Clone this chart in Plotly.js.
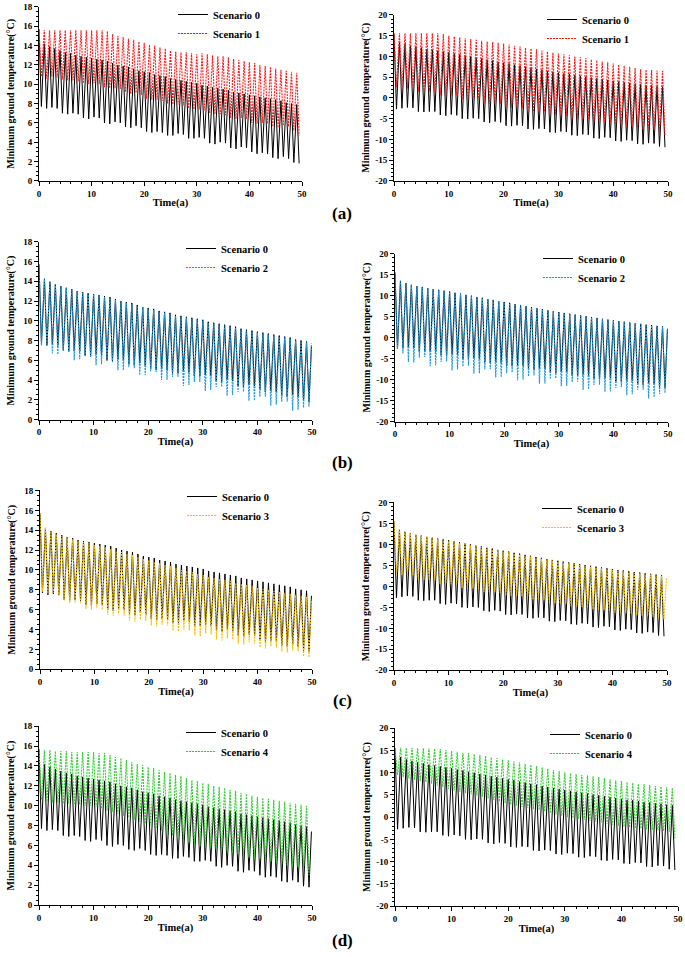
<!DOCTYPE html>
<html>
<head>
<meta charset="utf-8">
<script src="https://cdn.plot.ly/plotly-3.0.1.min.js"></script>
<style>html,body{margin:0;padding:0;background:#fff;}#chart{width:685px;height:957px;}</style>
</head>
<body>
<div id="chart"></div>
<script>
// ---- Data: yearly peak (index 0 = start value) and yearly trough ----
// Left column scenario data
const s0L_peak = [15.7,14.2,13.9,13.7,13.5,13.3,13.2,13.0,12.9,12.8,12.7,12.6,12.5,12.4,12.2,12.0,11.9,11.8,11.6,11.4,11.3,11.2,11.0,10.9,10.8,10.6,10.5,10.4,10.3,10.2,10.1,9.9,9.8,9.7,9.6,9.5,9.4,9.2,9.1,9.0,8.9,8.8,8.7,8.6,8.5,8.4,8.3,8.1,8.0,7.9];
const s0L_trough = [7.7,7.5,7.6,7.5,7.0,6.9,7.0,6.9,6.5,6.4,6.6,6.5,6.0,5.9,6.1,6.0,5.6,5.5,5.7,5.5,5.1,5.0,5.1,5.0,4.7,4.7,4.9,4.8,4.4,4.4,4.5,4.4,3.9,3.8,4.0,3.9,3.4,3.3,3.5,3.4,3.0,2.8,2.9,2.8,2.4,2.3,2.5,2.3,1.9,1.8];
const s1L_peak = [15.7,15.6,15.6,15.6,15.6,15.6,15.6,15.6,15.6,15.6,15.6,15.6,15.6,15.5,15.2,15.0,14.9,14.7,14.6,14.4,14.3,14.1,14.0,13.8,13.7,13.5,13.4,13.3,13.3,13.2,13.1,13.2,13.1,13.0,12.9,12.9,12.8,12.6,12.5,12.4,12.3,12.2,12.0,11.9,11.8,11.6,11.5,11.4,11.3,11.2];
const s1L_trough = [10.8,10.6,10.8,10.7,10.5,10.4,10.4,10.3,10.1,10.0,10.1,10.0,9.7,9.6,9.6,9.5,9.2,9.0,9.1,8.9,8.5,8.4,8.4,8.3,8.0,7.9,7.9,7.8,7.5,7.4,7.4,7.3,7.0,6.9,6.9,6.8,6.5,6.4,6.5,6.4,6.0,5.9,6.0,5.9,5.6,5.5,5.7,5.6,5.2,4.7];
const s2L_peak = [15.7,14.3,14.0,13.7,13.5,13.4,13.2,13.0,12.9,12.8,12.7,12.6,12.4,12.3,12.1,12.0,11.8,11.7,11.5,11.4,11.2,11.1,10.9,10.8,10.7,10.5,10.4,10.3,10.2,10.1,10.0,9.8,9.7,9.6,9.5,9.4,9.3,9.1,9.0,8.9,8.8,8.7,8.6,8.5,8.4,8.3,8.2,8.0,7.9,7.8];
const s2L_trough = [7.5,7.5,6.7,6.6,7.0,6.8,6.0,6.1,6.4,6.3,5.5,5.6,5.9,5.8,5.0,5.0,5.3,5.2,4.5,4.5,4.9,4.8,4.0,4.0,4.3,4.3,3.4,3.5,3.8,3.8,2.9,3.0,3.3,3.3,2.4,2.5,2.8,2.8,1.9,1.9,2.3,2.3,1.4,1.5,1.8,1.8,0.9,1.0,1.2,1.3];
const s3L_peak = [15.7,14.3,13.9,13.6,13.4,13.3,13.1,12.9,12.8,12.7,12.5,12.4,12.3,12.1,11.9,11.8,11.6,11.5,11.3,11.1,11.0,10.8,10.7,10.5,10.4,10.2,10.0,9.9,9.8,9.6,9.5,9.3,9.2,9.1,9.0,8.9,8.7,8.6,8.5,8.4,8.2,8.1,8.0,7.9,7.8,7.7,7.6,7.5,7.4,7.3];
const s3L_trough = [7.8,7.6,7.7,7.4,6.9,6.7,6.7,6.6,6.1,6.0,6.2,6.0,5.5,5.4,5.6,5.4,4.9,4.8,5.0,4.9,4.4,4.3,4.5,4.4,3.9,3.8,4.0,3.9,3.4,3.3,3.6,3.5,3.0,2.9,3.1,3.0,2.6,2.5,2.7,2.6,2.2,2.1,2.3,2.2,1.8,1.7,1.9,1.8,1.3,1.2];
const s4L_peak = [15.7,15.6,15.6,15.5,15.5,15.5,15.4,15.4,15.4,15.4,15.4,15.3,15.3,15.1,14.9,14.8,14.6,14.4,14.2,14.1,13.9,13.8,13.6,13.4,13.3,13.1,13.0,12.8,12.6,12.5,12.3,12.2,12.0,11.9,11.8,11.6,11.5,11.3,11.2,11.0,10.9,10.8,10.7,10.6,10.5,10.4,10.3,10.2,10.1,10.0];
const s4L_trough = [10.6,10.4,10.3,10.3,10.2,10.2,10.1,10.1,10.0,10.0,9.9,9.7,9.5,9.4,9.2,9.0,8.8,8.6,8.4,8.2,8.0,7.7,7.5,7.2,7.0,6.7,6.5,6.3,6.1,5.9,5.8,5.7,5.6,5.4,5.3,5.3,5.1,5.0,4.8,4.7,4.7,4.5,4.4,4.3,4.1,4.0,3.9,3.8,3.6,3.0];
// Right column scenario data
const s0R_peak = [15.5,13.5,13.0,12.6,12.3,12.1,11.8,11.6,11.4,11.2,11.0,10.7,10.5,10.2,10.0,9.7,9.5,9.2,9.0,8.7,8.5,8.3,8.0,7.8,7.5,7.3,7.0,6.8,6.5,6.3,6.1,5.9,5.7,5.5,5.3,5.1,4.9,4.7,4.5,4.3,4.1,3.9,3.8,3.6,3.4,3.3,3.1,3.0,2.8,2.7];
const s0R_trough = [-2.7,-2.5,-2.3,-2.4,-3.3,-3.4,-3.3,-3.3,-4.1,-4.3,-4.0,-4.2,-5.0,-5.1,-4.9,-5.0,-5.8,-6.0,-5.7,-5.9,-6.7,-6.8,-6.6,-6.7,-7.5,-7.6,-7.4,-7.5,-8.3,-8.4,-8.1,-8.2,-9.0,-9.1,-8.8,-8.9,-9.7,-9.8,-9.5,-9.6,-10.4,-10.5,-10.2,-10.3,-11.1,-11.2,-10.9,-11.0,-11.7,-11.9];
const s1R_peak = [15.6,15.6,15.6,15.6,15.6,15.6,15.6,15.6,15.6,15.4,15.0,14.8,14.6,14.4,14.2,14.0,13.8,13.6,13.5,13.3,13.1,12.9,12.6,12.4,12.1,11.9,11.7,11.4,11.2,10.9,10.7,10.5,10.3,10.0,9.8,9.6,9.3,9.1,8.8,8.6,8.3,8.0,7.8,7.5,7.2,6.9,6.8,6.7,6.6,6.5];
const s1R_trough = [2.5,2.3,2.2,2.4,1.5,1.4,1.5,1.4,0.6,0.5,0.6,0.5,-0.4,-0.5,-0.4,-0.5,-1.3,-1.4,-1.3,-1.4,-2.3,-2.4,-2.3,-2.4,-3.2,-3.3,-3.2,-3.3,-4.1,-4.2,-4.3,-4.4,-5.1,-5.2,-5.1,-5.2,-6.0,-6.1,-6.0,-6.1,-6.8,-6.9,-6.8,-6.9,-7.6,-7.7,-7.6,-7.7,-8.3,-9.0];
const s2R_peak = [15.5,13.6,13.0,12.6,12.3,12.0,11.8,11.6,11.3,11.1,10.9,10.7,10.4,10.2,9.9,9.7,9.4,9.2,8.9,8.7,8.4,8.2,8.0,7.7,7.5,7.2,7.0,6.7,6.5,6.3,6.0,5.8,5.6,5.4,5.2,5.0,4.8,4.6,4.4,4.2,4.0,3.9,3.7,3.5,3.4,3.2,3.1,2.9,2.8,2.6];
const s2R_trough = [-2.7,-3.8,-5.8,-5.9,-4.8,-4.6,-6.8,-6.6,-5.8,-5.7,-7.8,-7.6,-6.9,-6.7,-8.6,-8.5,-7.6,-7.5,-9.5,-9.4,-8.5,-8.3,-10.2,-10.0,-9.2,-9.0,-11.0,-10.9,-9.9,-9.7,-11.6,-11.5,-10.6,-10.5,-12.5,-12.3,-11.3,-11.2,-12.9,-12.8,-12.0,-11.8,-13.7,-13.5,-12.5,-12.4,-14.5,-14.2,-13.4,-13.2];
const s3R_peak = [15.5,13.6,13.1,12.6,12.3,12.0,11.8,11.5,11.3,11.0,10.8,10.6,10.3,10.1,9.8,9.6,9.3,9.1,8.8,8.6,8.3,8.1,7.8,7.6,7.3,7.1,6.8,6.6,6.4,6.2,5.9,5.7,5.5,5.3,5.1,4.9,4.7,4.5,4.3,4.1,3.9,3.7,3.6,3.4,3.2,3.1,2.9,2.8,2.6,2.5];
const s3R_trough = [3.0,2.7,2.6,2.6,1.6,1.5,1.6,1.5,0.6,0.5,0.5,0.4,-0.4,-0.5,-0.5,-0.6,-1.3,-1.4,-1.4,-1.5,-2.2,-2.3,-2.3,-2.4,-3.1,-3.2,-3.2,-3.3,-3.9,-4.0,-4.1,-4.2,-4.7,-4.8,-4.9,-5.0,-5.5,-5.6,-5.7,-5.8,-6.2,-6.3,-6.4,-6.5,-6.9,-7.0,-7.1,-7.2,-7.6,-7.8];
const s4R_peak = [15.6,15.6,15.6,15.6,15.5,15.5,15.5,15.4,15.3,15.1,14.9,14.7,14.5,14.4,14.2,14.0,13.8,13.5,13.3,13.0,12.8,12.5,12.3,12.0,11.8,11.5,11.2,10.9,10.6,10.4,10.1,9.9,9.7,9.5,9.4,9.2,9.0,8.8,8.5,8.3,8.1,7.9,7.7,7.5,7.4,7.2,7.0,6.9,6.7,6.6];
const s4R_trough = [9.5,9.0,8.7,8.4,8.1,7.9,7.5,7.1,6.8,6.4,6.0,5.7,5.4,5.1,4.9,4.6,4.2,3.8,3.5,3.1,2.8,2.6,2.3,2.1,1.8,1.6,1.3,0.9,0.6,0.3,0.0,-0.2,-0.4,-0.6,-0.8,-1.0,-1.2,-1.5,-1.7,-2.0,-2.2,-2.3,-2.5,-2.6,-2.8,-2.9,-3.0,-3.1,-3.3,-4.8];
// Final values at t = 50 where the curve ends on a rise (null = ends at last trough)
const endBase = [null, null, 7.4, 2.0, 7.4, null, 7.4, null];
const endScen = [null, null, 7.7, 2.2, 7.0, 2.0, null, null];

const scenarioNames = ['Scenario 1','Scenario 2','Scenario 3','Scenario 4'];
const scenarioColors = ['#FF1A1A','#1B98DE','#F5C000','#33CC33'];
const panelLetters = ['(a)','(b)','(c)','(d)'];
const leftTicks = [0,2,4,6,8,10,12,14,16,18];
const rightTicks = [-20,-15,-10,-5,0,5,10,15,20];
const xTicks = [0,10,20,30,40,50];

const leftScen = [[s1L_peak,s1L_trough],[s2L_peak,s2L_trough],[s3L_peak,s3L_trough],[s4L_peak,s4L_trough]];
const rightScen = [[s1R_peak,s1R_trough],[s2R_peak,s2R_trough],[s3R_peak,s3R_trough],[s4R_peak,s4R_trough]];

// ---- Layout geometry (pixels) ----
const W = 685, H = 957;
const boxes = [ // [x0,x1,yTop,yBottom]
  [39,302,6,180],[394,668,14,180],
  [39,312,241,419],[395,668,253,421],
  [40,312,490,669],[394,667,502,670],
  [39,312,726,905],[395,678,728,906]
];
const legendPos = [ // [text start x, first item center y]
  [215,13],[584,19],[223,248],[580,258],[224,496],[579,508],[223,732],[587,734]
];
const letterPos = [[342,213],[342,462],[342,700],[342,940]];

function wave(peaks, troughs, endVal){
  const x=[], y=[];
  for(let i=0;i<peaks.length;i++){
    x.push(i); y.push(peaks[i]);
    x.push(i+0.45); y.push(troughs[i]);
  }
  if(endVal!==null && endVal!==undefined){ x.push(49.9); y.push(endVal); }
  return {x,y};
}

const FONT = 'Liberation Serif, Times New Roman, serif';
const traces = [];
const layout = {
  width: W, height: H, margin:{l:0,r:0,t:0,b:0},
  paper_bgcolor:'#fff', plot_bgcolor:'rgba(0,0,0,0)',
  showlegend:true, annotations:[], font:{family:FONT, color:'#000'}
};

for(let p=0;p<8;p++){
  const row = Math.floor(p/2), col = p%2;
  const n = p+1;
  const xa = n===1?'x':'x'+n, ya = n===1?'y':'y'+n;
  const lg = n===1?'legend':'legend'+n;
  const base = col===0 ? wave(s0L_peak,s0L_trough,endBase[p]) : wave(s0R_peak,s0R_trough,endBase[p]);
  const sc = col===0 ? leftScen[row] : rightScen[row];
  const scw = wave(sc[0],sc[1],endScen[p]);
  traces.push({type:'scatter',mode:'lines',x:base.x,y:base.y,xaxis:xa,yaxis:ya,legend:lg,
    name:'Scenario 0',line:{color:'#000',width:1}});
  traces.push({type:'scatter',mode:'lines',x:scw.x,y:scw.y,xaxis:xa,yaxis:ya,legend:lg,
    name:scenarioNames[row],line:{color:scenarioColors[row],width:1.1,dash:'2px,1px'}});

  const b = boxes[p];
  const axX = {
    domain:[b[0]/W,b[1]/W], anchor:ya, range:[0,50], tickvals:xTicks, ticktext:xTicks.map(String),
    showgrid:false, zeroline:false, showline:true, linecolor:'#000', linewidth:1,
    ticks:'outside', ticklen:4, tickcolor:'#000', tickwidth:1,
    minor:{dtick:2, ticks:'outside', ticklen:2, tickcolor:'#000', showgrid:false},
    tickfont:{family:FONT,size:9,weight:'bold',color:'#000'},
    title:{text:'Time(a)', font:{family:FONT,size:10.5,weight:'bold',color:'#000'}, standoff:1},
    fixedrange:true
  };
  const ticksY = col===0 ? leftTicks : rightTicks;
  const axY = {
    domain:[1-b[3]/H,1-b[2]/H], anchor:xa, range: col===0?[0,18]:[-20,20],
    tickvals:ticksY, ticktext:ticksY.map(String),
    showgrid:false, zeroline:false, showline:true, linecolor:'#000', linewidth:1,
    ticks:'outside', ticklen:4, tickcolor:'#000', tickwidth:1,
    minor:{dtick: col===0?0.5:1, ticks:'outside', ticklen:2, tickcolor:'#000', showgrid:false},
    tickfont:{family:FONT,size:9,weight:'bold',color:'#000'},
    title:{text:'Minimum ground temperature(°C)', font:{family:FONT,size:10,weight:'bold',color:'#000'}, standoff: col===0?6:3},
    fixedrange:true
  };
  layout[n===1?'xaxis':'xaxis'+n] = axX;
  layout[n===1?'yaxis':'yaxis'+n] = axY;

  const lp = legendPos[p];
  layout[lg] = {
    x:(lp[0]-42)/W, y:1-(lp[1]-14)/H, xanchor:'left', yanchor:'top',
    bgcolor:'rgba(0,0,0,0)', borderwidth:0, tracegroupgap:0,
    font:{family:FONT,size:10.5,weight:'bold',color:'#000'}
  };
}

for(let r=0;r<4;r++){
  layout.annotations.push({xref:'paper',yref:'paper',x:letterPos[r][0]/W,y:1-letterPos[r][1]/H,
    xanchor:'center',yanchor:'middle',showarrow:false,text:panelLetters[r],
    font:{family:FONT,size:17,weight:'bold',color:'#000'}});
}

Plotly.newPlot('chart', traces, layout, {displayModeBar:false, staticPlot:true});
</script>
</body>
</html>
